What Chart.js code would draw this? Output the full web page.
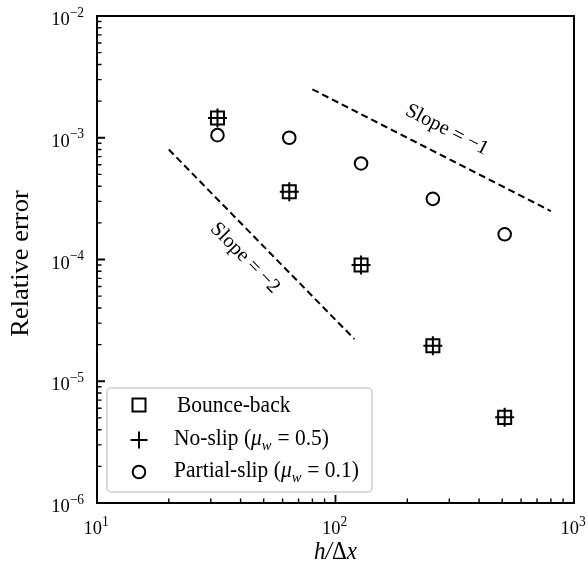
<!DOCTYPE html>
<html>
<head>
<meta charset="utf-8">
<script src="https://cdn.jsdelivr.net/npm/chart.js@4.4.1/dist/chart.umd.min.js"></script>
<style>
  html, body { margin: 0; padding: 0; background: #fff; }
  canvas { display: block; }
</style>
</head>
<body>
<canvas id="chart" width="588" height="574"></canvas>
<script>
// grid resolution h/dx and relative errors
const resolution = [32, 64, 128, 256, 512];
const bounceBack = [1.45e-3, 3.6e-4, 9.0e-5, 1.96e-5, 5.05e-6];
const noSlip = [1.45e-3, 3.6e-4, 9.0e-5, 1.96e-5, 5.05e-6];
const partialSlip = [1.05e-3, 1.0e-3, 6.15e-4, 3.15e-4, 1.61e-4];

// reference slope lines
const slope2X = [20, 120];
const slope2Y = [8e-4, 2.22e-5];
const slope1X = [80, 800];
const slope1Y = [2.5e-3, 2.5e-4];

// decades shown on the axes
const xTickExps = [1, 2, 3];
const yTickExps = [-6, -5, -4, -3, -2];

const legendLabels = ['Bounce-back', 'No-slip', 'Partial-slip'];

const SERIF = "'Liberation Serif', 'Times New Roman', serif";
const STRETCH = 1.06;

function fnt(size, italic) {
    return (italic ? 'italic ' : '') + size + 'px ' + SERIF;
}

// draws a row of text pieces, each with its own size / style / vertical shift
function drawRuns(ctx, runs, x, y, align) {
    let total = 0;
    runs.forEach(r => {
        ctx.font = fnt(r.size, r.italic);
        r.w = ctx.measureText(r.t).width + (r.gap || 0);
        total += r.w;
    });
    let cx = align === 'right' ? -total : align === 'center' ? -total / 2 : 0;
    ctx.save();
    ctx.translate(x, y);
    ctx.scale(1, STRETCH);
    ctx.textAlign = 'left';
    ctx.textBaseline = 'alphabetic';
    runs.forEach(r => {
        ctx.font = fnt(r.size, r.italic);
        ctx.fillText(r.t, cx, r.dy || 0);
        cx += r.w;
    });
    ctx.restore();
}

function pow10(exp) {
    const e = exp < 0 ? '\u2212' + (-exp) : String(exp);
    return [
        { t: '10', size: 18.5 },
        { t: e, size: 13.5, dy: -8 }
    ];
}

function minorValues(lo, hi) {
    const out = [];
    for (let e = lo; e < hi; e++) {
        for (let m = 2; m <= 9; m++) out.push(m * Math.pow(10, e));
    }
    return out;
}

const axesPlugin = {
    id: 'axesPlugin',
    afterDatasetsDraw(chart) {
        const ctx = chart.ctx;
        const a = chart.chartArea;
        const xs = chart.scales.x;
        const ys = chart.scales.y;
        ctx.save();
        ctx.strokeStyle = '#000';
        ctx.fillStyle = '#000';

        // frame
        ctx.lineWidth = 2;
        ctx.strokeRect(a.left, a.top, a.right - a.left, a.bottom - a.top);

        // inward ticks on the bottom and left axes
        ctx.lineWidth = 1.8;
        ctx.beginPath();
        xTickExps.forEach(e => {
            const px = xs.getPixelForValue(Math.pow(10, e));
            ctx.moveTo(px, a.bottom); ctx.lineTo(px, a.bottom - 8);
        });
        yTickExps.forEach(e => {
            const py = ys.getPixelForValue(Math.pow(10, e));
            ctx.moveTo(a.left, py); ctx.lineTo(a.left + 8, py);
        });
        ctx.stroke();
        ctx.lineWidth = 1.4;
        ctx.beginPath();
        minorValues(1, 3).forEach(v => {
            const px = xs.getPixelForValue(v);
            ctx.moveTo(px, a.bottom); ctx.lineTo(px, a.bottom - 4.5);
        });
        minorValues(-6, -2).forEach(v => {
            const py = ys.getPixelForValue(v);
            ctx.moveTo(a.left, py); ctx.lineTo(a.left + 4.5, py);
        });
        ctx.stroke();

        // tick labels
        xTickExps.forEach(e => {
            const px = xs.getPixelForValue(Math.pow(10, e));
            drawRuns(ctx, pow10(e), px - 1, a.bottom + 31, 'center');
        });
        yTickExps.forEach(e => {
            const py = ys.getPixelForValue(Math.pow(10, e));
            drawRuns(ctx, pow10(e), a.left - 13, py + 9, 'right');
        });

        // axis titles
        drawRuns(ctx, [
            { t: 'h', size: 23, italic: true },
            { t: '/', size: 23, italic: true },
            { t: '\u0394', size: 23 },
            { t: 'x', size: 23, italic: true }
        ], (a.left + a.right) / 2, 559, 'center');

        ctx.save();
        ctx.translate(21, (a.top + a.bottom) / 2 + 4);
        ctx.rotate(-Math.PI / 2);
        ctx.scale(STRETCH, 1);
        ctx.font = fnt(25);
        ctx.textAlign = 'center';
        ctx.textBaseline = 'middle';
        ctx.fillText('Relative error', 0, 0);
        ctx.restore();

        // slope annotations, aligned with their guide lines
        const slopeText = (lx, ly, label, at) => {
            const x0 = xs.getPixelForValue(lx[0]), y0 = ys.getPixelForValue(ly[0]);
            const x1 = xs.getPixelForValue(lx[1]), y1 = ys.getPixelForValue(ly[1]);
            const ang = Math.atan2(y1 - y0, x1 - x0);
            ctx.save();
            ctx.translate(xs.getPixelForValue(at[0]), ys.getPixelForValue(at[1]));
            ctx.rotate(ang);
            ctx.font = fnt(20.5);
            ctx.textAlign = 'center';
            ctx.textBaseline = 'middle';
            ctx.fillText(label, 0, 0);
            ctx.restore();
        };
        slopeText(slope2X, slope2Y, 'Slope = \u22122', [41.7, 1.03e-4]);
        slopeText(slope1X, slope1Y, 'Slope = \u22121', [293, 1.16e-3]);

        // legend
        const bx = 107, by = 388, bw = 265, bh = 104;
        ctx.beginPath();
        ctx.roundRect(bx, by, bw, bh, 4);
        ctx.fillStyle = 'rgba(255,255,255,0.85)';
        ctx.fill();
        ctx.strokeStyle = '#d0d0d0';
        ctx.lineWidth = 1.5;
        ctx.stroke();

        ctx.strokeStyle = '#000';
        ctx.fillStyle = 'rgba(0,0,0,0)';
        ctx.lineWidth = 2;
        const rows = [405, 440, 472];
        const styles = [
            { pointStyle: 'rect', radius: 9.2, rotation: 0, borderWidth: 2 },
            { pointStyle: 'cross', radius: 8.5, rotation: 0, borderWidth: 2 },
            { pointStyle: 'circle', radius: 6.3, rotation: 0, borderWidth: 2 }
        ];
        styles.forEach((s, i) => Chart.helpers.drawPoint(ctx, s, 139, rows[i]));

        ctx.fillStyle = '#000';
        drawRuns(ctx, [{ t: legendLabels[0], size: 21.5 }], 177, rows[0] + 7, 'left');
        const muRow = (label, val, y) => drawRuns(ctx, [
            { t: label + ' (', size: 21.5 },
            { t: '\u03bc', size: 21.5, italic: true },
            { t: 'w', size: 14.5, italic: true, dy: 5, gap: 6 },
            { t: '= ' + val + ')', size: 21.5 }
        ], 174, y, 'left');
        muRow(legendLabels[1], '0.5', rows[1] + 5);
        muRow(legendLabels[2], '0.1', rows[2] + 5);

        ctx.restore();
    }
};

const pts = (xv, yv) => xv.map((x, i) => ({ x: x, y: yv[i] }));

new Chart(document.getElementById('chart'), {
    type: 'scatter',
    data: {
        datasets: [
            {
                label: 'Slope -2',
                data: pts(slope2X, slope2Y),
                showLine: true,
                borderColor: '#000',
                borderWidth: 2,
                borderDash: [7, 4],
                pointRadius: 0
            },
            {
                label: 'Slope -1',
                data: pts(slope1X, slope1Y),
                showLine: true,
                borderColor: '#000',
                borderWidth: 2,
                borderDash: [7, 4],
                pointRadius: 0
            },
            {
                label: legendLabels[0],
                data: pts(resolution, bounceBack),
                pointStyle: 'rect',
                pointRadius: 9.2,
                pointBorderWidth: 2,
                borderColor: '#000',
                backgroundColor: 'rgba(0,0,0,0)'
            },
            {
                label: legendLabels[1],
                data: pts(resolution, noSlip),
                pointStyle: 'cross',
                pointRadius: 9.5,
                pointBorderWidth: 2,
                borderColor: '#000',
                backgroundColor: 'rgba(0,0,0,0)'
            },
            {
                label: legendLabels[2],
                data: pts(resolution, partialSlip),
                pointStyle: 'circle',
                pointRadius: 6.3,
                pointBorderWidth: 2,
                borderColor: '#000',
                backgroundColor: 'rgba(0,0,0,0)'
            }
        ]
    },
    options: {
        responsive: false,
        animation: false,
        layout: { padding: { left: 97, right: 14, top: 16, bottom: 71 } },
        scales: {
            x: { type: 'logarithmic', min: 10, max: 1000, display: false },
            y: { type: 'logarithmic', min: 1e-6, max: 1e-2, display: false }
        },
        plugins: {
            legend: { display: false },
            tooltip: { enabled: false }
        }
    },
    plugins: [axesPlugin]
});
</script>
</body>
</html>
